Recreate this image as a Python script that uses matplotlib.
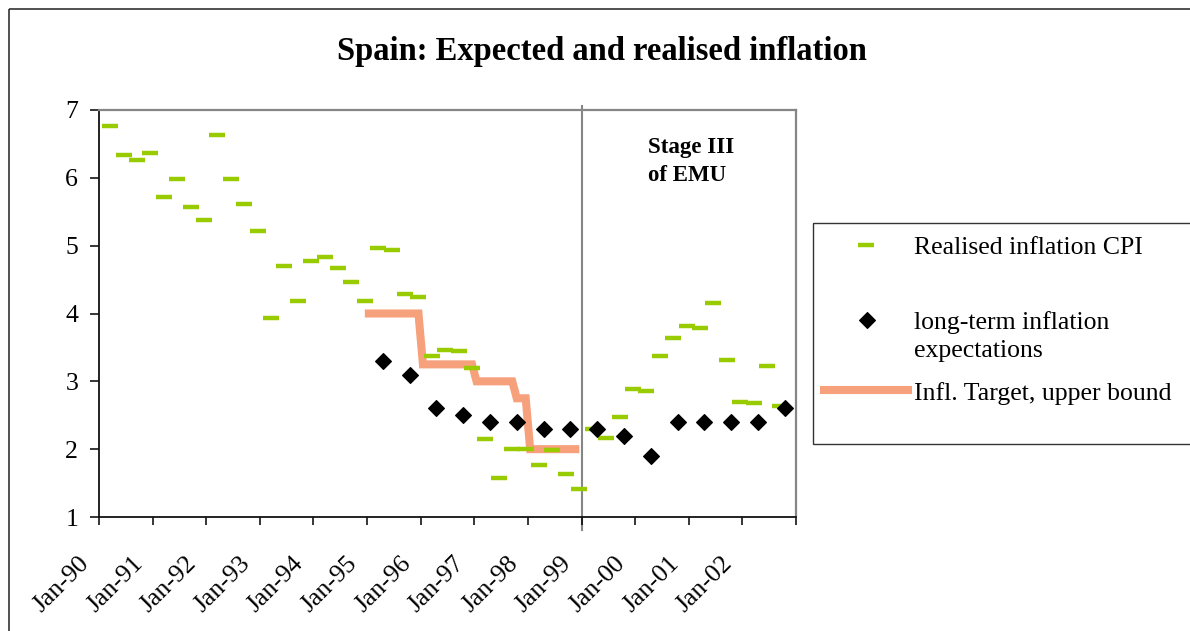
import matplotlib
matplotlib.use("Agg")
import matplotlib.pyplot as plt
import pandas as pd
from matplotlib.transforms import blended_transform_factory, ScaledTranslation
from matplotlib.patches import Rectangle
from matplotlib.lines import Line2D

# ---------------- data ----------------
title = "Spain: Expected and realised inflation"
tick_years = [1990, 1991, 1992, 1993, 1994, 1995, 1996, 1997, 1998, 1999, 2000, 2001, 2002, 2003]
tick_labels = ["Jan-90", "Jan-91", "Jan-92", "Jan-93", "Jan-94", "Jan-95", "Jan-96",
               "Jan-97", "Jan-98", "Jan-99", "Jan-00", "Jan-01", "Jan-02", ""]
y_ticks = [1, 2, 3, 4, 5, 6, 7]

# Realised CPI inflation, quarterly (Mar, Jun, Sep, Dec) from Mar-1990
cpi_start = "1990-03"
cpi_values = [6.77, 6.34, 6.26, 6.36, 5.72, 5.98, 5.57, 5.38,
              6.63, 5.99, 5.62, 5.21, 3.93, 4.70, 4.18, 4.78,
              4.84, 4.67, 4.47, 4.19, 4.97, 4.94, 4.29, 4.25,
              3.37, 3.46, 3.44, 3.19, 2.15, 1.57, 2.00, 2.00,
              1.77, 1.99, 1.64, 1.42, 2.29, 2.16, 2.47, 2.88,
              2.86, 3.37, 3.64, 3.82, 3.79, 4.15, 3.31, 2.70,
              2.68, 3.23, 2.63]

# Long-term inflation expectations, semi-annual (Apr, Oct) from Apr-1995
exp_start = "1995-04"
exp_values = [3.3, 3.1, 2.6, 2.5, 2.4, 2.4, 2.3, 2.3,
              2.3, 2.2, 1.9, 2.4, 2.4, 2.4, 2.4, 2.6]

# Inflation target, upper bound (monthly step points)
target_dates = ["1994-12", "1995-12", "1996-01", "1996-12", "1997-01",
                "1997-09", "1997-10", "1997-12", "1998-01", "1998-12"]
target_values = [4.0, 4.0, 3.25, 3.25, 3.0, 3.0, 2.75, 2.75, 2.0, 2.0]

legend_labels = ["Realised inflation CPI", "long-term inflation\nexpectations",
                 "Infl. Target, upper bound"]
stage_text = ["Stage III", "of EMU"]

# ---------------- styles ----------------
W, H, DPI = 1190, 631, 100
GREEN = "#99CC00"
ORANGE = "#F7A07C"
GRAY = "#868686"
FONT = "Liberation Serif"
plt.rcParams["font.family"] = [FONT, "DejaVu Serif"]


def to_x(dates):
    d = pd.DatetimeIndex(dates)
    return d.year + (d.month - 0.5) / 12.0


cpi_x = to_x(pd.date_range(cpi_start, periods=len(cpi_values), freq="3MS"))
exp_x = to_x(pd.date_range(exp_start, periods=len(exp_values), freq="6MS"))
tgt_x = to_x(pd.to_datetime(target_dates))

fig = plt.figure(figsize=(W / DPI, H / DPI), dpi=DPI)
fig.patch.set_facecolor("white")

# main axes in pixel geometry
L, R, T, B = 99, 796, 110, 517
ax = fig.add_axes([L / W, (H - B) / H, (R - L) / W, (B - T) / H])
ax.set_xlim(tick_years[0], tick_years[-1])
ax.set_ylim(y_ticks[0], y_ticks[-1])

ax.plot(tgt_x, target_values, color=ORANGE, lw=5.8, solid_joinstyle="miter",
        solid_capstyle="butt", zorder=2)
ax.plot(cpi_x, cpi_values, ls="none", marker="_", ms=11.5, mew=3.2,
        color=GREEN, zorder=3)
ax.plot(exp_x, exp_values, ls="none", marker="D", ms=8.2, mew=0.8,
        color="black", zorder=4)

ax.axvline(1999, ymin=-0.032, ymax=1.01, color=GRAY, lw=1.5, clip_on=False, zorder=1.5)

for s in ["left", "bottom"]:
    ax.spines[s].set_color("#111111")
    ax.spines[s].set_linewidth(1.3)
for s in ["top", "right"]:
    ax.spines[s].set_color(GRAY)
    ax.spines[s].set_linewidth(1.6)

ax.set_yticks(y_ticks)
ax.set_yticklabels([str(v) for v in y_ticks])
ax.tick_params(axis="y", direction="out", length=6.5, width=1.1, pad=8.5,
               labelsize=18.5, colors="black")
ax.set_xticks(tick_years)
ax.set_xticklabels([])
ax.tick_params(axis="x", direction="out", length=5.8, width=1.1, colors="black")

lab_tr = blended_transform_factory(ax.transData, ax.transAxes) + \
    ScaledTranslation(-21 / DPI, -35 / DPI, fig.dpi_scale_trans)
for yr, lab in zip(tick_years, tick_labels):
    if lab:
        ax.text(yr, 0, lab, transform=lab_tr, rotation=45, rotation_mode="anchor",
                ha="right", va="top", fontsize=18.5, clip_on=False)

# ---------------- overlay (frame, title, legend) ----------------
ov = fig.add_axes([0, 0, 1, 1], zorder=5)
ov.set_xlim(0, W)
ov.set_ylim(H, 0)
ov.axis("off")
ov.patch.set_alpha(0)

ov.add_patch(Rectangle((8.5, 9), W + 20, H + 20, fill=False, ec="#333333", lw=1.2,
                       clip_on=False))

ov.text(601.5, 60, title, ha="center", va="baseline", fontsize=23.5,
        fontweight="bold")

ov.text(648.5, 153, stage_text[0], ha="left", va="baseline", fontsize=16.5,
        fontweight="bold")
ov.text(648.5, 181, stage_text[1], ha="left", va="baseline", fontsize=16.5,
        fontweight="bold")

# legend box
ov.add_patch(Rectangle((812.5, 222.5), 420, 221.5, fill=False, ec="#333333", lw=1.0,
                       clip_on=False))
ov.add_line(Line2D([866], [244.5], ls="none", marker="_", ms=11.5, mew=3.2, color=GREEN))
ov.text(914, 254, legend_labels[0], ha="left", va="baseline", fontsize=18.5)
ov.add_line(Line2D([866.5], [319.5], ls="none", marker="D", ms=8.2, mew=0.8, color="black"))
first, second = legend_labels[1].split("\n")
ov.text(914, 328.5, first, ha="left", va="baseline", fontsize=18.5)
ov.text(914, 357, second, ha="left", va="baseline", fontsize=18.5)
ov.add_line(Line2D([820, 912], [390, 390], color=ORANGE, lw=5.8, solid_capstyle="butt"))
ov.text(914, 400, legend_labels[2], ha="left", va="baseline", fontsize=18.5)

fig.savefig("out.png", dpi=DPI)
